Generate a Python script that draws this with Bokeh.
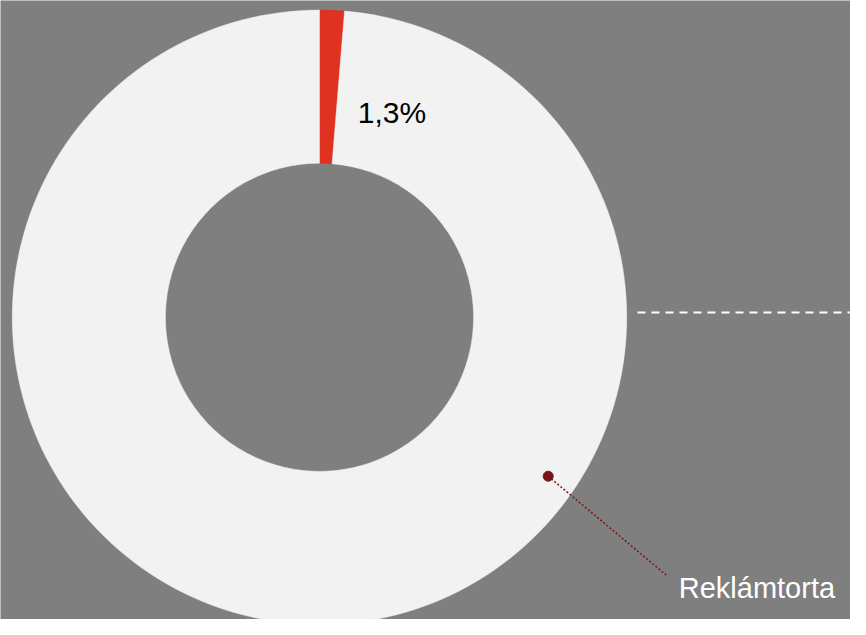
import math
from bokeh.plotting import figure
from bokeh.models import Range1d, ColumnDataSource
from bokeh.core.properties import value
from bokeh.embed import file_html
from bokeh.resources import INLINE

# ---- data ----
categories = ["Share", "Rest"]
shares = [1.3, 98.7]
slice_labels = ["1,3%", ""]
slice_colors = ["#E03220", "#F2F2F2"]
annotation_text = "Reklámtorta"

BG = "#7F7F7F"
W, H = 866, 635  # reference frame; data y = H - screen Y

p = figure(width=850, height=619, output_backend="svg", toolbar_location=None,
           x_range=Range1d(0, W), y_range=Range1d(0, H),
           min_border=0, background_fill_color=BG, border_fill_color=BG,
           outline_line_color=None)
p.axis.visible = False
p.grid.visible = False

cx, cy = 325, H - 325
r_out, r_in = 313, 157

total = sum(shares)
starts, ends = [], []
cum = 0.0
for s in shares:
    starts.append(math.pi / 2 - 2 * math.pi * cum / total)
    cum += s
    ends.append(math.pi / 2 - 2 * math.pi * cum / total)

src = ColumnDataSource(dict(cat=categories, start=starts, end=ends, color=slice_colors))
p.annular_wedge(x=cx, y=cy, inner_radius=r_in, outer_radius=r_out,
                start_angle="start", end_angle="end", direction="clock",
                fill_color="color", line_color="color", line_width=0.5, source=src)

# percentage label
p.text(x=[364], y=[H - 115], text=[slice_labels[0]], text_color="#000000",
       text_font=value("Liberation Sans"), text_font_size="30px",
       text_align="left", text_baseline="alphabetic")

# dashed guide line
p.line(x=[649, 866], y=[H - 320, H - 320], line_color="#FFFFFF",
       line_width=2, line_dash="8 6")

# annotation
p.line(x=[558, 679], y=[H - 488, H - 590], line_color="#7A1315",
       line_width=1.5, line_dash="2 2")
p.scatter(x=[558], y=[H - 488], size=10, fill_color="#7A1315", line_color="#7A1315")
p.text(x=[691], y=[H - 603], text=[annotation_text], text_color="#FFFFFF",
       text_font=value("Liberation Sans"), text_font_size="29px",
       text_align="left", text_baseline="alphabetic")

open("out.html", "w").write(file_html(p, INLINE))
